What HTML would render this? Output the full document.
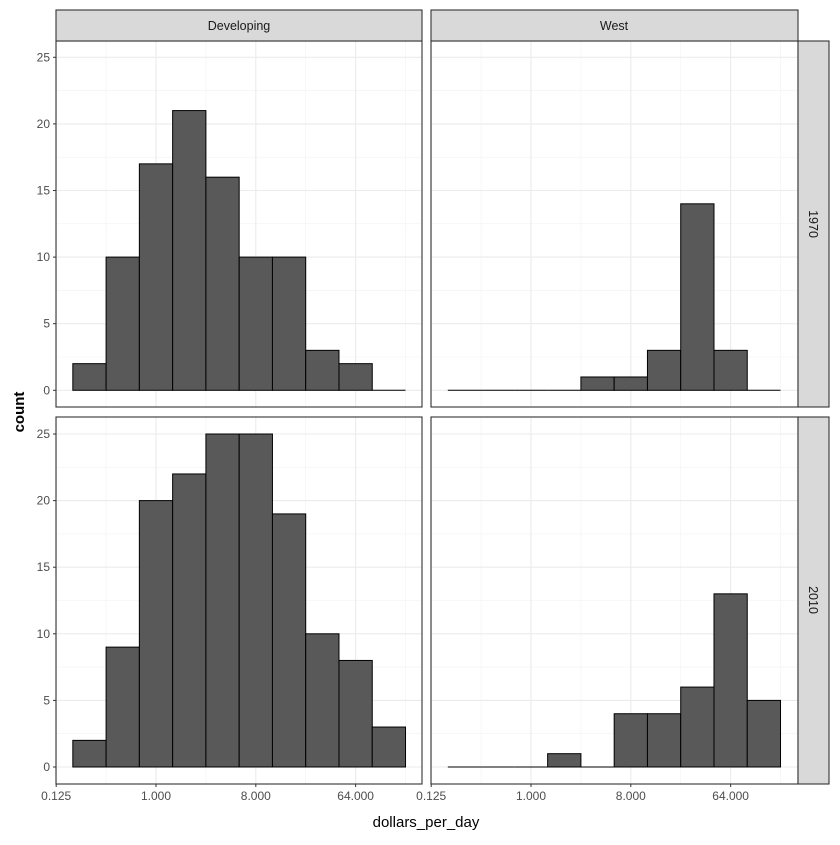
<!DOCTYPE html>
<html><head><meta charset="utf-8"><style>
body{margin:0;background:#fff}
svg text{font-family:"Liberation Sans",Arial,sans-serif}
</style></head><body>
<svg id="s" width="840" height="840" xmlns="http://www.w3.org/2000/svg"></svg>
<script>
const S=document.getElementById('s');let h='';
const panels=[
 {x0:56,x1:422,y0:41,y1:407,cx:156,zy:390.3,c:[2,10,17,21,16,10,10,3,2,0]},
 {x0:431,x1:798,y0:41,y1:407,cx:531,zy:390.3,c:[0,0,0,0,1,1,3,14,3,0]},
 {x0:56,x1:422,y0:417,y1:784,cx:156,zy:767,c:[2,9,20,22,25,25,19,10,8,3]},
 {x0:431,x1:798,y0:417,y1:784,cx:531,zy:767,c:[0,0,0,1,0,4,4,6,13,5]}
];
const ux=33.27,uy=13.32;
panels.forEach((p,pi)=>{
 h+=`<rect x="${p.x0}" y="${p.y0}" width="${p.x1-p.x0}" height="${p.y1-p.y0}" fill="#fff"/>`;
 for(let l=-1.5;l<8;l+=3){const x=p.cx+l*ux;h+=`<line x1="${x}" x2="${x}" y1="${p.y0}" y2="${p.y1}" stroke="#f2f2f2" stroke-width="0.6"/>`;}
 for(let v=2.5;v<26;v+=5){const y=p.zy-v*uy;h+=`<line x1="${p.x0}" x2="${p.x1}" y1="${y}" y2="${y}" stroke="#f2f2f2" stroke-width="0.6"/>`;}
 for(let l=-3;l<=6;l+=3){const x=p.cx+l*ux;h+=`<line x1="${x}" x2="${x}" y1="${p.y0}" y2="${p.y1}" stroke="#ebebeb" stroke-width="1.1"/>`;}
 for(let v=0;v<=25;v+=5){const y=p.zy-v*uy;h+=`<line x1="${p.x0}" x2="${p.x1}" y1="${y}" y2="${y}" stroke="#ebebeb" stroke-width="1.1"/>`;}
 p.c.forEach((c,i)=>{const x=p.cx+(-2.5+i)*ux,y=p.zy-c*uy;
  if(c==0)h+=`<line x1="${x}" x2="${x+ux}" y1="${p.zy}" y2="${p.zy}" stroke="#000" stroke-width="1"/>`;
  else h+=`<rect x="${x}" y="${y}" width="${ux}" height="${c*uy}" fill="#595959" stroke="#000" stroke-width="1"/>`;});
 h+=`<rect x="${p.x0}" y="${p.y0}" width="${p.x1-p.x0}" height="${p.y1-p.y0}" fill="none" stroke="#333" stroke-width="1.1"/>`;
 if(pi%2==0){for(let v=0;v<=25;v+=5){const y=p.zy-v*uy;
  h+=`<line x1="${p.x0-3}" x2="${p.x0}" y1="${y}" y2="${y}" stroke="#333"/><text x="${p.x0-6}" y="${y+4}" text-anchor="end" font-size="12" fill="#4d4d4d">${v}</text>`;}}
 if(pi>=2){const lab=['0.125','1.000','8.000','64.000'];for(let k=0;k<4;k++){const x=p.cx+(-3+3*k)*ux;
  h+=`<line x1="${x}" x2="${x}" y1="${p.y1}" y2="${p.y1+3}" stroke="#333"/><text x="${x}" y="${p.y1+16}" text-anchor="middle" font-size="12" fill="#4d4d4d">${lab[k]}</text>`;}}
});
h+=`<rect x="56" y="10" width="366" height="31" fill="#d9d9d9" stroke="#333" stroke-width="1.1"/><text x="239" y="30" text-anchor="middle" font-size="12.5" fill="#1a1a1a">Developing</text>`;
h+=`<rect x="431" y="10" width="367" height="31" fill="#d9d9d9" stroke="#333" stroke-width="1.1"/><text x="614" y="30" text-anchor="middle" font-size="12.5" fill="#1a1a1a">West</text>`;
h+=`<rect x="798" y="41" width="31" height="366" fill="#d9d9d9" stroke="#333" stroke-width="1.1"/><text transform="translate(809,224) rotate(90)" text-anchor="middle" font-size="12.5" fill="#1a1a1a">1970</text>`;
h+=`<rect x="798" y="417" width="31" height="367" fill="#d9d9d9" stroke="#333" stroke-width="1.1"/><text transform="translate(809,600) rotate(90)" text-anchor="middle" font-size="12.5" fill="#1a1a1a">2010</text>`;
h+=`<text x="426" y="827" text-anchor="middle" font-size="15" fill="#000">dollars_per_day</text>`;
h+=`<text transform="translate(24,412) rotate(-90)" text-anchor="middle" font-size="15" font-weight="bold" fill="#000">count</text>`;
S.innerHTML=h;
</script>
</body></html>
